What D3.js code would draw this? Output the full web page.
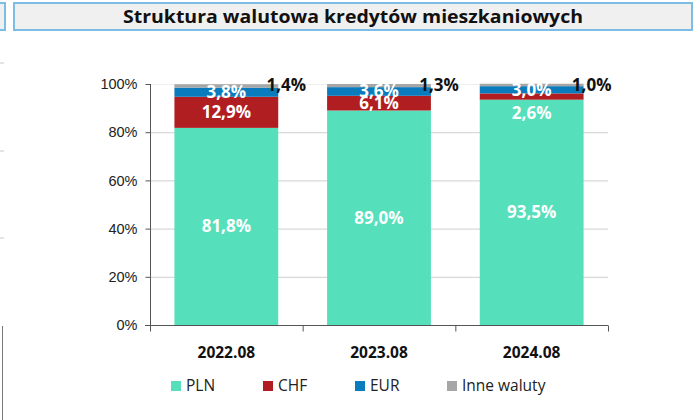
<!DOCTYPE html>
<meta charset="utf-8">
<title>Struktura walutowa kredytów mieszkaniowych</title>
<style>
    body { margin: 0; background: #fff; }
    svg { font-family: "Open Sans", "Noto Sans", sans-serif; }
    .tick text { font-size: 14.5px; fill: #222; }
</style>
<svg width="700" height="420"></svg>
<script src="https://cdn.jsdelivr.net/npm/d3@7"></script>
<script>

    var categories = ["2022.08", "2023.08", "2024.08"];
    var seriesNames = ["PLN", "CHF", "EUR", "Inne waluty"];
    var pln = [81.8, 89.0, 93.5];
    var chf = [12.9, 6.1, 2.6];
    var eur = [3.8, 3.6, 3.0];
    var inne = [1.4, 1.3, 1.0];
    var yTicks = [0, 20, 40, 60, 80, 100];

    var colors = ["#55dfba", "#b01e22", "#0a7bbd", "#a6a6a6"];

    var svg = d3.select("svg");

    // title box, plus the bits of neighbouring panels cut off at the left edge
    svg.append("rect").attr("x", -10).attr("y", 3).attr("width", 15).attr("height", 27)
        .attr("fill", "#f0f0f0").attr("stroke", "#7cbde6").attr("stroke-width", 2);
    svg.append("rect").attr("x", 14).attr("y", 3).attr("width", 678).attr("height", 27)
        .attr("fill", "#f0f0f0").attr("stroke", "#7cbde6").attr("stroke-width", 2);
    svg.append("text").attr("x", 353).attr("y", 23)
        .attr("text-anchor", "middle").attr("font-weight", "bold").attr("font-size", 17.5)
        .attr("textLength", 460).attr("lengthAdjust", "spacingAndGlyphs")
        .attr("fill", "#111").text("Struktura walutowa kredytów mieszkaniowych");

    [63, 151, 238].forEach(function(y) {
        svg.append("line").attr("x1", 0).attr("x2", 4).attr("y1", y).attr("y2", y)
            .attr("stroke", "#c8c8c8");
    });
    svg.append("line").attr("x1", 2.5).attr("x2", 2.5).attr("y1", 326).attr("y2", 420)
        .attr("stroke", "#777");

    var x = d3.scaleBand().domain(categories).range([150, 608]).paddingInner(0.32).paddingOuter(0.16);
    var y = d3.scaleLinear().domain([0, 100]).range([325, 84]);

    // gridlines
    svg.append("g").selectAll("line").data(yTicks.slice(1)).enter().append("line")
        .attr("x1", 150).attr("x2", 608)
        .attr("y1", function(d) { return y(d) + 0.5; })
        .attr("y2", function(d) { return y(d) + 0.5; })
        .attr("stroke", function(d) { return d === 100 ? "#eeeeee" : "#cfcfcf"; });

    var rows = categories.map(function(c, i) {
        return { cat: c, PLN: pln[i], CHF: chf[i], EUR: eur[i], "Inne waluty": inne[i] };
    });
    var stacked = d3.stack().keys(seriesNames)(rows);

    var layer = svg.append("g").selectAll("g").data(stacked).enter().append("g")
        .attr("fill", function(d, i) { return colors[i]; });

    layer.selectAll("rect").data(function(d) { return d; }).enter().append("rect")
        .attr("x", function(d) { return x(d.data.cat); })
        .attr("width", x.bandwidth())
        .attr("y", function(d) { return y(d[1]); })
        .attr("height", function(d) { return y(d[0]) - y(d[1]); });

    // axes
    var yAxis = svg.append("g").attr("transform", "translate(150.5,0)")
        .call(d3.axisLeft(y).tickValues(yTicks).tickSize(5).tickPadding(8)
            .tickFormat(function(d) { return d + "%"; }));
    yAxis.select(".domain").attr("stroke", "#555").attr("d", "M0," + y(100) + "V" + y(0));
    yAxis.selectAll(".tick line").attr("stroke", "#555");

    var bounds = [150, x.step() + 150, 2 * x.step() + 150, 608];
    var xAxis = svg.append("g").attr("transform", "translate(0,325.5)");
    xAxis.append("line").attr("x1", 145).attr("x2", 608).attr("stroke", "#555");
    xAxis.selectAll(".bt").data(bounds).enter().append("line")
        .attr("x1", function(d) { return d + 0.5; }).attr("x2", function(d) { return d + 0.5; })
        .attr("y1", 0).attr("y2", 6).attr("stroke", "#555");
    xAxis.selectAll("text").data(categories).enter().append("text")
        .attr("x", function(d) { return x(d) + x.bandwidth() / 2; })
        .attr("y", 32).attr("text-anchor", "middle")
        .attr("font-size", 15.5).attr("font-weight", "bold").attr("fill", "#111")
        .text(function(d) { return d; });

    function fmt(v) { return v.toFixed(1).replace(".", ",") + "%"; }

    // labels inside segments
    var labels = svg.append("g").attr("font-weight", "bold").attr("text-anchor", "middle");
    stacked.forEach(function(s, si) {
        s.forEach(function(d, ci) {
            var v = d[1] - d[0];
            var cx = x(d.data.cat) + x.bandwidth() / 2;
            var cy = y((d[0] + d[1]) / 2);
            var fill = "#fff", size = 17;
            if (si === 3) {
                cx += 60; cy = y(100) + 1; fill = "#111";
            } else if (si === 1 && v < 4) {
                cy = y(d[0]) + 13;
            }
            labels.append("text").attr("x", cx).attr("y", cy).attr("dy", "0.35em")
                .attr("font-size", size).attr("fill", fill).text(fmt(v));
        });
    });

    // legend
    var legendX = [171, 263, 355, 447];
    var legend = svg.append("g").selectAll("g").data(seriesNames).enter().append("g")
        .attr("transform", function(d, i) { return "translate(" + legendX[i] + ",381)"; });
    legend.append("rect").attr("width", 10).attr("height", 10)
        .attr("fill", function(d, i) { return colors[i]; });
    legend.append("text").attr("x", 15).attr("y", 5).attr("dy", "0.35em")
        .attr("font-size", 15.5).attr("fill", "#222").text(function(d) { return d; });

</script>
